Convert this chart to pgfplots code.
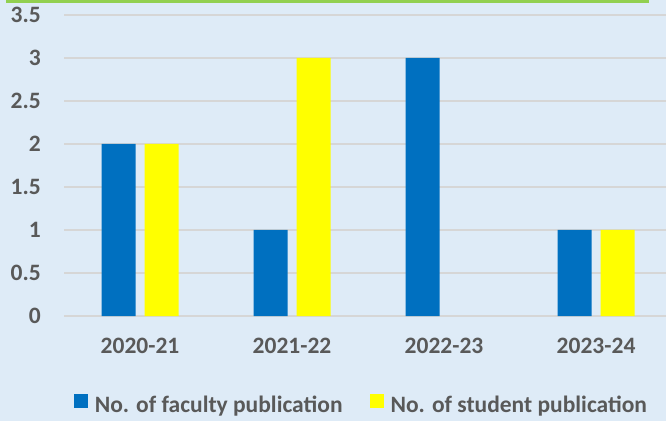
\documentclass[border=0pt]{standalone}
\usepackage{fontspec}
\setmainfont{Carlito}
\usepackage{pgfplots}
\pgfplotsset{compat=1.18}
\definecolor{bg}{RGB}{222,235,247}
\definecolor{grn}{RGB}{146,208,80}
\definecolor{txt}{RGB}{89,89,89}
\definecolor{grd}{RGB}{214,214,214}
\definecolor{fac}{RGB}{0,112,192}
\definecolor{stu}{RGB}{255,255,0}
\newcommand{\lblfont}{\fontsize{23.5bp}{28bp}\selectfont\bfseries}
\begin{document}
\begin{tikzpicture}
\fill[bg] (0bp,0bp) rectangle (666bp,421bp);
\path[use as bounding box] (0bp,0bp) rectangle (666bp,421bp);
\fill[grn] (6bp,418bp) rectangle (649bp,421bp);
\begin{axis}[
  at={(64bp,105bp)}, anchor=south west,
  scale only axis, width=602bp, height=301bp,
  xmin=-0.5, xmax=3.46, ymin=0, ymax=3.5,
  ybar, bar width=34bp,
  xtick={0,1,2,3}, xticklabels={2020-21,2021-22,2022-23,2023-24},
  ytick={0,0.5,1,1.5,2,2.5,3,3.5},
  yticklabels={0,0.5,1,1.5,2,2.5,3,3.5},
  major tick length=0pt,
  axis line style={draw=none},
  ymajorgrids, grid style={draw=grd, line width=1.8bp},
  tick label style={font=\lblfont, text=txt, inner sep=0pt},
  yticklabel style={anchor=east, xshift=-23bp},
  xticklabel style={anchor=north, yshift=-22bp},
  legend style={at={(0.494,-0.294)}, anchor=center, draw=none, fill=none,
    font=\lblfont, text=txt, legend columns=2,
    /tikz/every odd column/.append style={column sep=5bp},
    /tikz/every even column/.append style={column sep=25bp}},
  clip=false,
]
\addplot[fill=fac, draw=none, bar shift=-21.5bp,
  legend image code/.code={\fill[fac] (0bp,-4bp) rectangle (14bp,10bp);}]
  coordinates {(0,2) (1,1) (2,3) (3,1)};
\addplot[fill=stu, draw=none, bar shift=21.5bp,
  legend image code/.code={\fill[stu] (0bp,-4bp) rectangle (14bp,10bp);}]
  coordinates {(0,2) (1,3) (3,1)};
\legend{No. of faculty publication, No. of student publication}
\end{axis}
\end{tikzpicture}
\end{document}
